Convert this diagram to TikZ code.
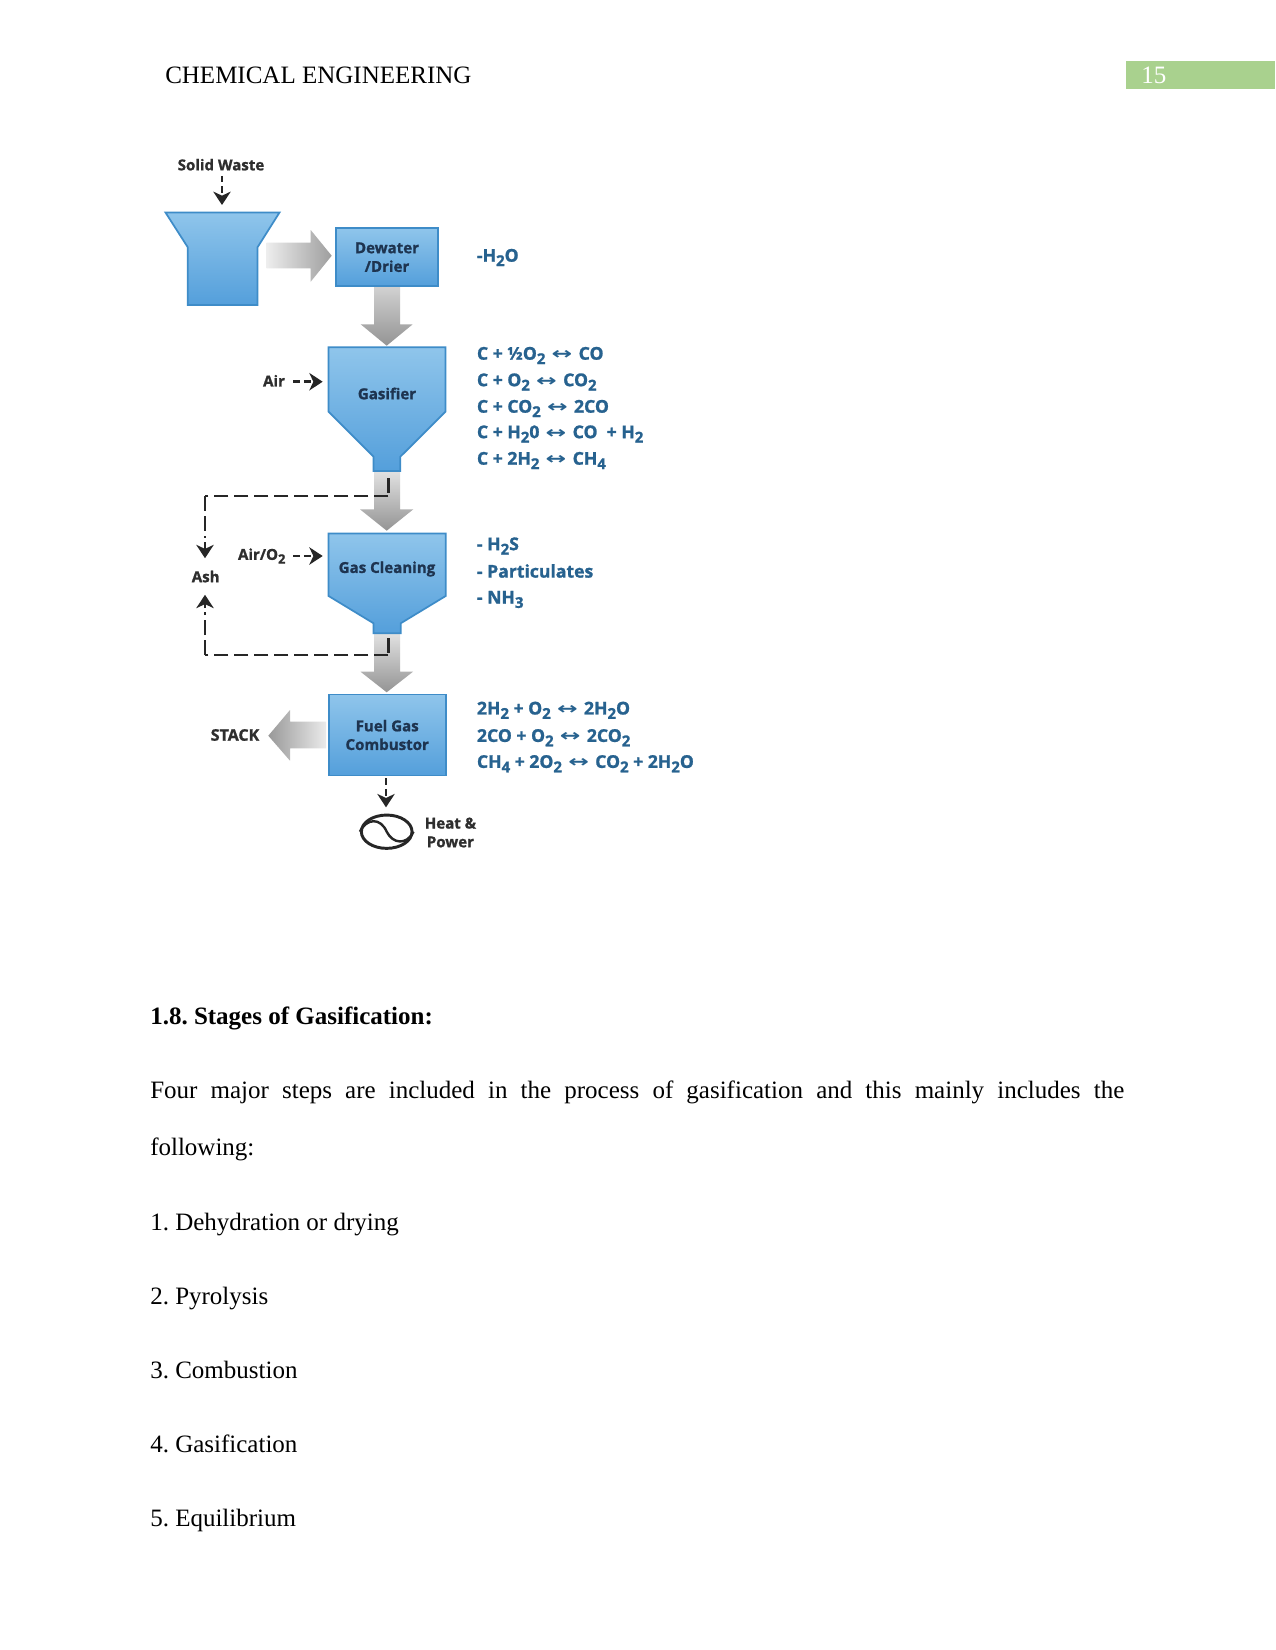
\documentclass[tikz,border=0pt]{standalone}
\usepackage{fontspec}
\usetikzlibrary{arrows.meta,shapes.geometric}
\setmainfont{Liberation Serif}
\newfontfamily\labelfont[BoldFeatures={FakeBold=1.2}]{Open Sans}
\newfontfamily\symfont{DejaVu Sans}
\newcommand{\dn}[1]{\raisebox{-0.25em}{\scalebox{0.85}{#1}}}
\newcommand{\eqv}{\ \kern1.3pt{\symfont\bfseries\scalebox{1.4}[0.95]{↔}}\kern1.3pt\ }
\definecolor{boxtop}{HTML}{8FC5EB}
\definecolor{boxbot}{HTML}{549FDB}
\definecolor{boxedge}{HTML}{3E8CC8}
\definecolor{boxtext}{HTML}{1E3450}
\definecolor{chemtext}{HTML}{27628F}
\definecolor{flowtext}{HTML}{2E2E2E}
\definecolor{pagegreen}{HTML}{A9D18E}
\tikzset{
  x=0.75pt,y=-0.75pt,
  vessel/.style={draw=boxedge,line width=1.3pt,top color=boxtop,bottom color=boxbot,line join=miter},
  boxnode/.style={rectangle,vessel,inner sep=0pt,align=center,text=boxtext,font=\labelfont\bfseries\fontsize{11.3}{14}\selectfont},
  vesseltext/.style={inner sep=0pt,align=center,text=boxtext,font=\labelfont\bfseries\fontsize{11.3}{14}\selectfont},
  flowlabel/.style={inner sep=0pt,align=center,text=flowtext,font=\labelfont\bfseries\fontsize{11.3}{14}\selectfont},
  chem/.style={anchor=west,inner sep=0pt,text=chemtext,font=\labelfont\bfseries\fontsize{13.2}{15}\selectfont},
  body/.style={anchor=base west,inner sep=0pt,font=\fontsize{18.75}{22}\selectfont},
  dashflow/.style={draw=black!85,line width=2.2pt,dash pattern=on 11pt off 4pt},
  dropflow/.style={draw=black!85,line width=2.2pt,-{Stealth[length=10pt,width=13pt,inset=3pt]}},
  feedflow/.style={draw=black!85,line width=2pt,dash pattern=on 5pt off 3pt,
    -{Stealth[length=10pt,width=13pt,inset=3pt]}},
}
\begin{document}
\frenchspacing
\begin{tikzpicture}
\useasboundingbox (0,0) rectangle (1275,1650);
\fill[white] (0,0) rectangle (1275,1650);

% page header
\node[body] (header) at (165,83) {CHEMICAL ENGINEERING};
\fill[pagegreen] (1125.7,60.7) rectangle (1275,89.3);
\node[body,text=white] (pageno) at (1141,83) {15};

% heavy grey transfer arrows
\shade[left color=black!7,right color=black!38]
  (266.7,242.7) -- (310.7,242.7) -- (310.7,230) -- (331.7,255.7) -- (310.7,281.7) -- (310.7,268.3) -- (266.7,268.3) -- cycle;
\shade[top color=black!18,bottom color=black!42]
  (374,286.7) -- (400,286.7) -- (400,324.3) -- (412.7,324.3) -- (386.7,345.7) -- (360.7,324.3) -- (374,324.3) -- cycle;
\shade[top color=black!12,bottom color=black!42]
  (374,472) -- (400,472) -- (400,509.3) -- (413.3,509.3) -- (386.7,530.7) -- (360,509.3) -- (374,509.3) -- cycle;
\shade[top color=black!12,bottom color=black!42]
  (374,634) -- (400,634) -- (400,671.7) -- (413,671.7) -- (386.7,692.3) -- (360.5,671.7) -- (374,671.7) -- cycle;
\shade[left color=black!40,right color=black!8]
  (326,721.7) -- (290,721.7) -- (290,710) -- (268.3,735.7) -- (290,760.7) -- (290,748.3) -- (326,748.3) -- cycle;

% hopper and process vessels
\path[vessel] (165.5,212.5) -- (279.5,212.5) -- (257.5,247.3) -- (257.5,305) -- (187.8,305) -- (187.8,247.3) -- cycle;
\node[boxnode,minimum width=76.5pt,minimum height=43.5pt] (dewater) at (387,257.2) {Dewater\\/Drier};
\path[vessel] (328.6,347.3) -- (445.5,347.3) -- (445.5,411.7) -- (400.3,456.7) -- (400.3,471) -- (373.6,471) -- (373.6,456.7) -- (328.6,411.7) -- cycle;
\node[vesseltext] (gasifier) at (387,393.5) {Gasifier};
\path[vessel] (328.6,533.5) -- (445.7,533.5) -- (445.7,596) -- (400.7,623.3) -- (400.7,633.3) -- (373.6,633.3) -- (373.6,623.3) -- (328.6,596) -- cycle;
\node[vesseltext] (cleaning) at (387,569) {Gas Cleaning};
\node[boxnode,minimum width=87.7pt,minimum height=60.8pt] (fuel) at (387.2,735) {Fuel Gas\\Combustor};

% flow labels
\node[flowlabel] (solid) at (221,164.7) {Solid Waste};
\node[flowlabel] (air) at (274,380.7) {Air};
\node[flowlabel] (airox) at (261.7,556) {Air/O\dn{2}};
\node[flowlabel,minimum height=27pt] (ash) at (205.7,576.5) {Ash};
\node[flowlabel,font=\labelfont\bfseries\fontsize{12}{14}\selectfont] (stack) at (235,735) {STACK};
\node[flowlabel,anchor=west] (heat) at (424.5,832.5) {Heat \&\\Power};

% generator symbol
\node[ellipse,draw=black!85,line width=2.2pt,minimum width=38pt,minimum height=25pt,inner sep=0pt] (gen) at (386.7,831.7) {};
\draw[black!85,line width=1.8pt] (gen.west) .. controls +(7,-14) and +(-6,-14) .. (gen.center) .. controls +(6,12) and +(-7,14) .. (gen.east);

% feed and product arrows
\coordinate (hopperin) at (222,205);
\draw[feedflow] (solid.south -| hopperin) ++(0,5) -- (hopperin);
\coordinate (gasifierin) at (322.7,381.7);
\draw[feedflow] (293.3,381.7) -- (gasifierin);
\coordinate (cleaningin) at (322.7,556);
\draw[feedflow] (293.3,556) -- (cleaningin);
\coordinate (genin) at (386,807.3);
\draw[feedflow] (386,778.3) -- (genin);

% ash draw-off lines
\coordinate (gasout) at (388.3,478);
\coordinate (gasturn) at (388.3,496);
\coordinate (gasback) at (205,496);
\coordinate (cleanout) at (388.3,638);
\coordinate (cleanturn) at (388.3,655);
\coordinate (cleanback) at (205,655);
\draw[dashflow] (gasout) -- (gasturn);
\draw[dashflow] (gasturn) -- (gasback);
\draw[dashflow] (gasback) -- (205,538);
\draw[dropflow] (205,542) -- (ash.north -| gasback);
\draw[dashflow] (cleanout) -- (cleanturn);
\draw[dashflow] (cleanturn) -- (cleanback);
\draw[dashflow] (cleanback) -- (205,612);
\draw[dropflow] (205,608) -- (ash.south -| cleanback);

% reaction lists
\node[chem] (r0) at (476.7,257.5) {-H\dn{2}O};
\node[chem] (r1) at (476.7,355.5) {C + ½O\dn{2}\eqv CO};
\node[chem] (r2) at (476.7,382) {C + O\dn{2}\eqv CO\dn{2}};
\node[chem] (r3) at (476.7,408.5) {C + CO\dn{2}\eqv 2CO};
\node[chem] (r4) at (476.7,434) {C + H\dn{2}0\eqv CO\ \ + H\dn{2}};
\node[chem] (r5) at (476.7,460.5) {C + 2H\dn{2}\eqv CH\dn{4}};
\node[chem] (c1) at (476.7,546) {- H\dn{2}S};
\node[chem] (c2) at (476.7,571) {- Particulates};
\node[chem] (c3) at (476.7,599.5) {- NH\dn{3}};
\node[chem] (f1) at (476.7,710.3) {2H\dn{2} + O\dn{2}\eqv 2H\dn{2}O};
\node[chem] (f2) at (476.7,737.7) {2CO + O\dn{2}\eqv 2CO\dn{2}};
\node[chem] (f3) at (476.7,763.7) {CH\dn{4} + 2O\dn{2}\eqv CO\dn{2} + 2H\dn{2}O};

% section text
\node[body,font=\bfseries\fontsize{18.75}{22}\selectfont] (heading) at (150,1024) {1.8. Stages of Gasification:};
\node[body] (para1) at (150,1098) {\makebox[730.5pt][s]{Four major steps are included in the process of gasification and this mainly includes the}};
\node[body] (para2) at (150,1155) {following:};
\node[body] (s1) at (150,1230) {1. Dehydration or drying};
\node[body] (s2) at (150,1304) {2. Pyrolysis};
\node[body] (s3) at (150,1378) {3. Combustion};
\node[body] (s4) at (150,1452) {4. Gasification};
\node[body] (s5) at (150,1526) {5. Equilibrium};
\end{tikzpicture}
\end{document}
